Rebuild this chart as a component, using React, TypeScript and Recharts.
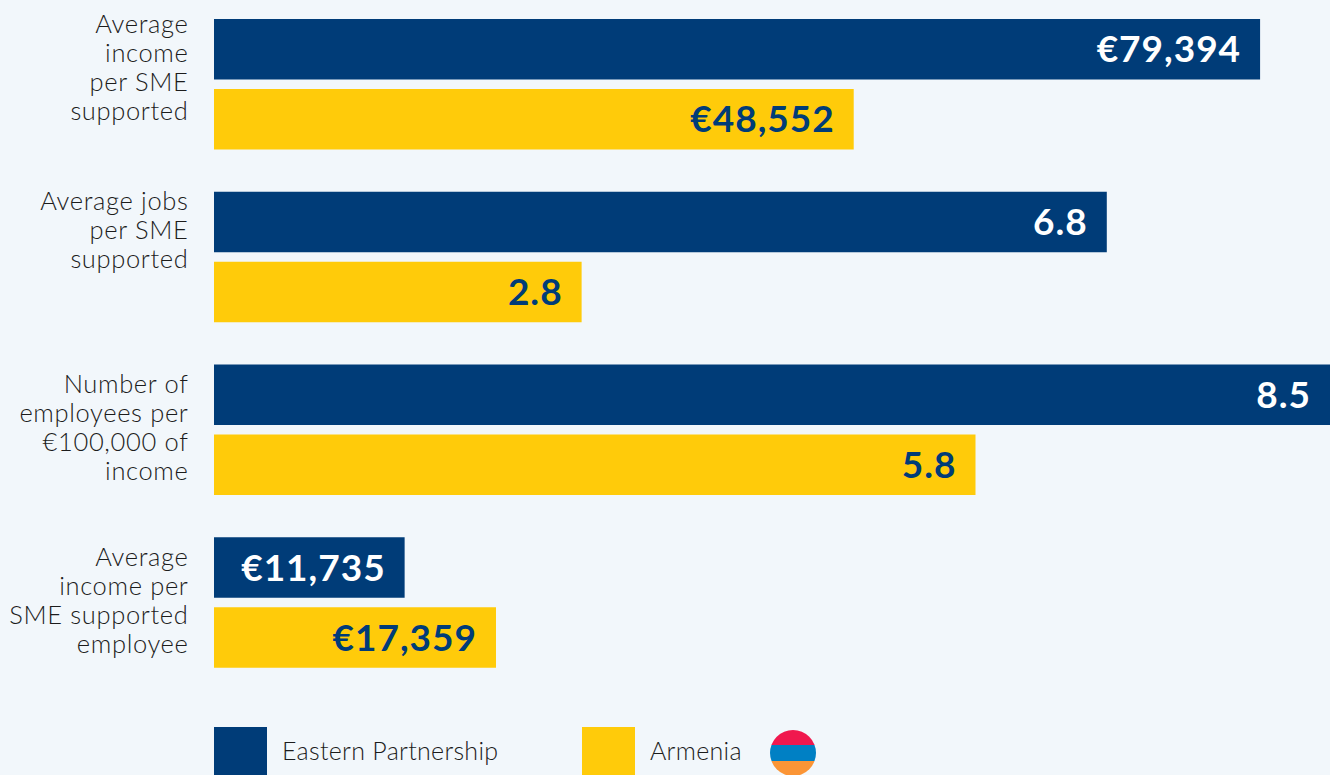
import React from 'react';
import { BarChart, Bar, XAxis, YAxis, Legend, LabelList } from 'recharts';

const categories = [
  'Average\nincome\nper SME\nsupported',
  'Average jobs\nper SME\nsupported',
  'Number of\nemployees per\n€100,000 of\nincome',
  'Average\nincome per\nSME supported\nemployee',
];
const easternPartnership = [79394, 6.8, 8.5, 11735];
const armenia = [48552, 2.8, 5.8, 17359];
// every row has its own scale in the original, this is the value at the full axis length
const rowSpan = [84700, 8.5, 8.5, 68700];
const rowPrefix = ['€', '', '', '€'];

const NAVY = '#003c78';
const YELLOW = '#ffcb0a';
const INK = '#1c1c1c';
const FONT = 'Lato, sans-serif';
const labelNudge = [-16, -26, -1.5, -1];

const data = categories.map((name, i) => ({
  name,
  eap: easternPartnership[i] / rowSpan[i],
  arm: armenia[i] / rowSpan[i],
  eapText: rowPrefix[i] + easternPartnership[i].toLocaleString('en-US'),
  armText: rowPrefix[i] + armenia[i].toLocaleString('en-US'),
}));

function CategoryTick({ y, payload, index }: any) {
  const lines: string[] = payload.value.split('\n');
  const first = y + labelNudge[index] - ((lines.length - 1) * 28.8) / 2;
  return (
    <text textAnchor="end" fontFamily={FONT} fontSize={25.5} fontWeight={300} letterSpacing={0.65} fill={INK}>
      {lines.map((line, i) => (
        <tspan key={line} x={188.5} y={first + i * 28.8 + 8}>
          {line}
        </tspan>
      ))}
    </text>
  );
}

function valueLabel(color: string) {
  return ({ x, y, width, height, value }: any) => (
    <text
      x={x + width - 19}
      y={y + height / 2 + 13}
      textAnchor="end"
      fontFamily={FONT}
      fontWeight={700}
      fontSize={37}
      letterSpacing={1}
      fill={color}
    >
      {value}
    </text>
  );
}

function FlagDot() {
  return (
    <svg width={46} height={46} style={{ position: 'absolute', left: 770, top: 41 }}>
      <clipPath id="flag">
        <circle cx={23} cy={23} r={23} />
      </clipPath>
      <g clipPath="url(#flag)">
        <rect width={46} height={15} fill="#f0184e" />
        <rect y={15} width={46} height={16} fill="#0080c4" />
        <rect y={31} width={46} height={15} fill="#fb9536" />
      </g>
    </svg>
  );
}

function ChartLegend({ payload }: any) {
  const slots = [214, 582];
  return (
    <div
      style={{
        position: 'relative',
        width: 1330,
        height: 86,
        fontFamily: FONT,
        fontWeight: 300,
        fontSize: 25,
        letterSpacing: 0.3,
        color: INK,
      }}
    >
      {(payload || []).map((item: any, i: number) => (
        <React.Fragment key={item.value}>
          <div style={{ position: 'absolute', left: slots[i], top: 38, width: 53, height: 48, background: item.color }} />
          <div style={{ position: 'absolute', left: slots[i] + 68, top: 46, whiteSpace: 'nowrap', lineHeight: '30px' }}>
            {item.value}
          </div>
        </React.Fragment>
      ))}
      <FlagDot />
    </div>
  );
}

export default function App() {
  return (
    <div style={{ position: 'absolute', left: 0, top: 0, width: 1330, height: 775, background: '#f2f7fb', overflow: 'hidden' }}>
      <BarChart
        width={1330}
        height={775}
        data={data}
        layout="vertical"
        margin={{ top: -2, right: 0, bottom: 0, left: 0 }}
        barCategoryGap={21}
        barGap={9.5}
        barSize={60.5}
        style={{ overflow: 'visible' }}
      >
        <XAxis type="number" domain={[0, 1]} hide />
        <YAxis
          type="category"
          dataKey="name"
          width={214}
          axisLine={false}
          tickLine={false}
          interval={0}
          tick={CategoryTick}
        />
        <Legend
          verticalAlign="bottom"
          itemSorter={null}
          content={ChartLegend}
          wrapperStyle={{ left: 0, bottom: 0, width: 1330 }}
        />
        <Bar dataKey="eap" name="Eastern Partnership" fill={NAVY} isAnimationActive={false}>
          <LabelList dataKey="eapText" content={valueLabel('#ffffff')} />
        </Bar>
        <Bar dataKey="arm" name="Armenia" fill={YELLOW} isAnimationActive={false}>
          <LabelList dataKey="armText" content={valueLabel(NAVY)} />
        </Bar>
      </BarChart>
    </div>
  );
}
